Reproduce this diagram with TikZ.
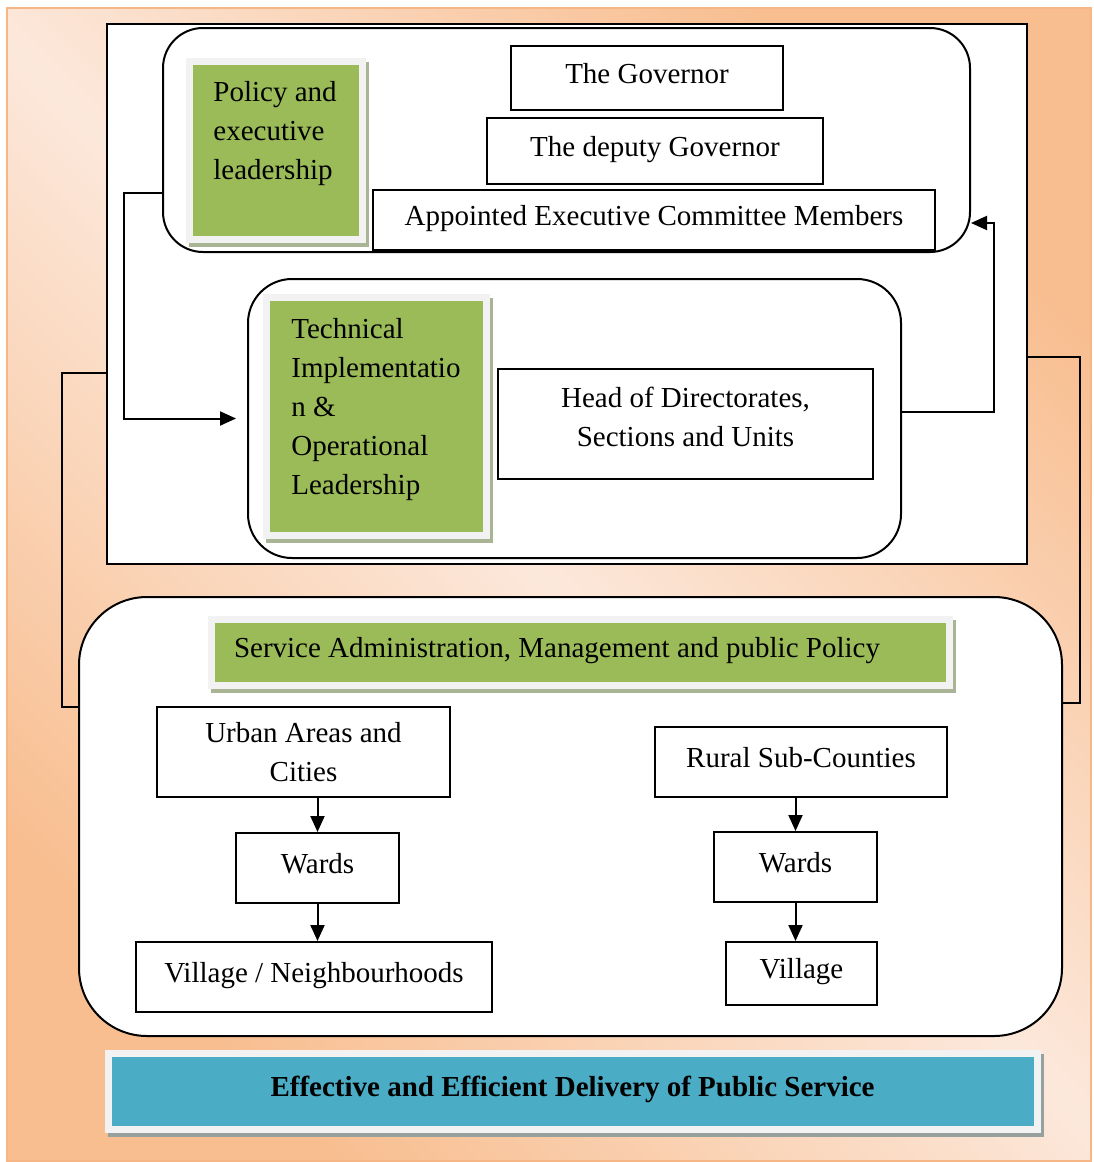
\documentclass[tikz,border=0pt]{standalone}
\usepackage{fontspec}
\setmainfont{Liberation Serif}
\usepackage{tikz}
\usetikzlibrary{positioning}
\usetikzlibrary{arrows.meta}

\definecolor{bgdark}{RGB}{248,190,144}
\definecolor{bglight}{RGB}{252,232,219}
\definecolor{bgedge}{RGB}{246,182,134}
\definecolor{leaf}{RGB}{155,187,89}
\definecolor{sea}{RGB}{75,172,198}
\definecolor{rim}{RGB}{242,242,242}
\definecolor{leafshade}{RGB}{168,180,148}
\definecolor{seashade}{RGB}{150,160,156}

\newcommand{\boxfont}{\fontsize{14.5}{19.5}\selectfont}

\tikzset{
  plain/.style={draw, line width=1pt, fill=white, inner sep=0pt},
  cell/.style={plain, text height=10pt, text depth=5pt},
  cell2/.style={plain, align=center},
  panel/.style={plain, rounded corners=#1},
  tag/.style={fill=leaf, draw=rim, line width=3.5pt, inner sep=0pt, outer sep=0pt,
    preaction={fill=leafshade, draw=leafshade, line width=3.5pt,
      transform canvas={shift={(1.5pt,-2pt)}}}},
  band/.style={fill=sea, draw=rim, line width=3.5pt, inner sep=0pt, outer sep=0pt,
    text height=10pt, text depth=5pt,
    preaction={fill=seashade, draw=seashade, line width=3.5pt,
      transform canvas={shift={(1.5pt,-2pt)}}}},
  link/.style={line width=1pt}
}

\begin{document}
\begin{tikzpicture}[x=0.5pt, y=-0.5pt, font=\boxfont, >={Triangle[length=8pt,width=7pt]}]
\useasboundingbox (0,0) rectangle (1093,1162);
\fill[white] (0,0) rectangle (1093,1162);
% peach backdrop
\shade[top color=bgdark, bottom color=bgdark, middle color=bglight, shading angle=-45]
  (7,8) rectangle (1091,1161);
\draw[bgedge, line width=1pt] (7,8) rectangle (1091,1161);

% upper frame: policy and technical levels
\node[plain, minimum width=460pt, minimum height=270pt] (upper) at (567,294) {};

\node[panel=20pt, minimum width=403.5pt, minimum height=112pt] (lead) at (566.5,140) {};
\node[tag, minimum width=86.5pt, minimum height=88.75pt] (policy) at (275.5,150.25) {};
\node[anchor=north west, align=left, inner sep=0pt] (policytext)
  at ([xshift=12pt, yshift=-9.75pt]policy.north west) {Policy and\\executive\\leadership};
\node[cell, minimum width=136pt, minimum height=32pt] (gov) at (647,78) {The Governor};
\node[cell, minimum width=168pt, minimum height=33pt] (deputy) at (655,151) {The deputy Governor};
\node[cell, minimum width=281pt, minimum height=30pt] (exco) at (654,220)
  {Appointed Executive Committee Members};

\node[panel=22pt, minimum width=326.5pt, minimum height=139.5pt] (ops) at (574.5,418.5) {};
\node[tag, minimum width=110pt, minimum height=119pt] (tech) at (376.5,416.5) {};
\node[anchor=north west, align=left, inner sep=0pt] (techtext)
  at ([xshift=12.25pt, yshift=-10.25pt]tech.north west)
  {Technical\\Implementatio\\n \&\\Operational\\Leadership};
\node[cell2, minimum width=187.5pt, minimum height=55pt, text depth=7pt]
  (heads) at (685.5,424) {Head of Directorates,\\Sections and Units};

% lower panel: service administration
\node[panel=34pt, minimum width=491.5pt, minimum height=219.5pt] (admin) at (570.5,816.5) {};
\node[tag, minimum width=369pt, minimum height=33.25pt, text width=346pt, align=flush left,
  text height=10pt, text depth=5pt] (service) at (580,652.25)
  {Service Administration, Management and public Policy};

\node[cell2, minimum width=146.5pt, minimum height=45pt] (urban) at (303.5,752)
  {Urban Areas and\\Cities};
\node[cell, minimum width=81.5pt, minimum height=35pt] (wardsU) at (317.5,868) {Wards};
\node[cell, minimum width=178pt, minimum height=35pt] (villageU) at (314,977)
  {Village / Neighbourhoods};

\node[cell, minimum width=146pt, minimum height=35pt] (rural) at (801,762) {Rural Sub-Counties};
\node[cell, minimum width=81.5pt, minimum height=35pt] (wardsR) at (795.5,867) {Wards};
\node[cell, minimum width=75.5pt, minimum height=31.5pt] (villageR) at (801.5,973.5) {Village};

% outcome
\node[band, minimum width=464.5pt, minimum height=38.25pt, font=\boxfont\bfseries]
  (delivery) at (572.5,1091.25) {Effective and Efficient Delivery of Public Service};

% connectors
\draw[link, ->, shorten >=5.5pt] ([yshift=-26.5pt]lead.west) -- ++(-19pt,0) |- (ops.west);
\draw[link, ->] ([yshift=3.5pt]ops.east) -- ++(46pt,0) |- ([yshift=-41.5pt]lead.east);
\draw[link] ([yshift=-39.5pt]upper.west) -- ++(-22pt,0) |- ([yshift=54.75pt]admin.west);
\draw[link] ([yshift=-31.5pt]upper.east) -- ++(26pt,0) |- ([yshift=56.75pt]admin.east);

\draw[link, ->] (wardsU.north |- urban.south) -- (wardsU.north);
\draw[link, ->] (wardsU.south) -- (wardsU.south |- villageU.north);
\draw[link, ->] (wardsR.north |- rural.south) -- (wardsR.north);
\draw[link, ->] (wardsR.south) -- (wardsR.south |- villageR.north);

\end{tikzpicture}
\end{document}
